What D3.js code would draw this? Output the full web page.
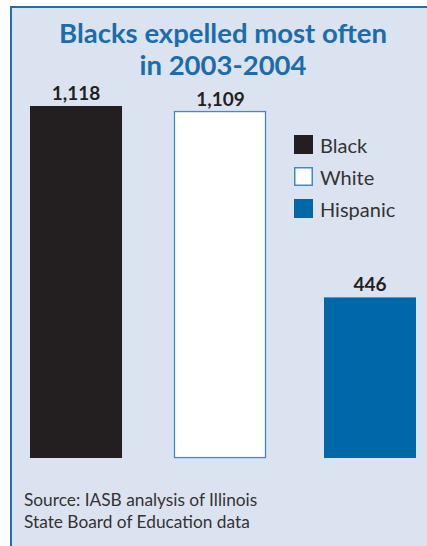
<!DOCTYPE html>
<html>
<head>
<meta charset="utf-8">
<script src="https://cdn.jsdelivr.net/npm/d3@7"></script>
<style>
  body { margin: 0; background: #fff; }
  svg { display: block; }
</style>
</head>
<body>
<div id="chart"></div>
<script>
// chart data
var categories = ["Black", "White", "Hispanic"];
var values = [1118, 1109, 446];
var valueLabels = ["1,118", "1,109", "446"];
var titleLines = ["Blacks expelled most often", "in 2003-2004"];
var sourceLines = ["Source: IASB analysis of Illinois", "State Board of Education data"];

var width = 427, height = 546;
var fills = { "Black": "#231f20", "White": "#ffffff", "Hispanic": "#0067a9" };
var strokes = { "Black": "none", "White": "#3b8ccb", "Hispanic": "none" };

var svg = d3.select("#chart").append("svg")
    .attr("width", width)
    .attr("height", height);

/* panel with blue frame */
svg.append("rect")
    .attr("x", 11).attr("y", 7)
    .attr("width", width).attr("height", height)
    .attr("fill", "#dce3f0")
    .attr("stroke", "#1f6db1")
    .attr("stroke-width", 2);

/* title */
svg.append("g").selectAll("text")
    .data(titleLines)
    .enter().append("text")
    .attr("x", 223)
    .attr("y", function(d, i) { return 43 + i * 32; })
    .attr("text-anchor", "middle")
    .attr("font-family", "Lato, 'Open Sans', sans-serif")
    .attr("font-weight", "bold")
    .attr("font-size", 27.5)
    .attr("fill", "#1a6cae")
    .text(function(d) { return d; });

/* scales (the printed bars are not drawn from zero) */
var x = d3.scaleBand()
    .domain(categories)
    .range([30, 416])
    .paddingInner(0.374)
    .paddingOuter(0);

var y = d3.scaleLinear()
    .domain([-118, 1118])
    .range([458, 106]);

// the printed White bar sits a little left and low of the scale position
function nudgeX(c) { return c == "White" ? -2.5 : 0; }
function nudgeY(c) { return c == "White" ? 3 : 0; }

var bars = svg.append("g");
bars.selectAll("rect")
    .data(values)
    .enter().append("rect")
    .attr("x", function(d, i) { return x(categories[i]) + nudgeX(categories[i]); })
    .attr("y", function(d, i) { return y(d) + nudgeY(categories[i]); })
    .attr("width", function(d, i) { return x.bandwidth() - (categories[i] == "White" ? 1 : 0); })
    .attr("height", function(d, i) { return y(-118) - y(d) - nudgeY(categories[i]) * 1.15; })
    .attr("fill", function(d, i) { return fills[categories[i]]; })
    .attr("stroke", function(d, i) { return strokes[categories[i]]; })
    .attr("stroke-width", 1.3);

/* value labels */
bars.selectAll("text")
    .data(values)
    .enter().append("text")
    .attr("x", function(d, i) { return x(categories[i]) + x.bandwidth() / 2 + nudgeX(categories[i]); })
    .attr("y", function(d, i) { return y(d) - 6 + nudgeY(categories[i]); })
    .attr("text-anchor", "middle")
    .attr("font-family", "Lato, 'Open Sans', sans-serif")
    .attr("font-weight", "bold")
    .attr("font-size", 19)
    .attr("fill", "#231f20")
    .text(function(d, i) { return valueLabels[i]; });

/* legend */
var legend = svg.append("g").attr("transform", "translate(294,135)");
var item = legend.selectAll("g")
    .data(categories)
    .enter().append("g")
    .attr("transform", function(d, i) { return "translate(0," + i * 32 + ")"; });
item.append("rect")
    .attr("x", function(d) { return d == "White" ? 0.75 : 0; })
    .attr("y", function(d) { return d == "White" ? 0.75 : 0; })
    .attr("width", function(d) { return d == "White" ? 17.5 : 19; })
    .attr("height", function(d) { return d == "White" ? 17.5 : 19; })
    .attr("fill", function(d) { return fills[d]; })
    .attr("stroke", function(d) { return strokes[d]; })
    .attr("stroke-width", 1.5);
item.append("text")
    .attr("x", 26)
    .attr("y", 18)
    .attr("font-family", "Lato, 'Open Sans', sans-serif")
    .attr("font-size", 20)
    .attr("fill", "#333")
    .text(function(d) { return d; });

/* source note */
svg.append("g").selectAll("text")
    .data(sourceLines)
    .enter().append("text")
    .attr("x", 24)
    .attr("y", function(d, i) { return 506 + i * 21.5; })
    .attr("font-family", "Lato, 'Open Sans', sans-serif")
    .attr("font-size", 17.3)
    .attr("fill", "#333")
    .text(function(d) { return d; });
</script>
</body>
</html>
